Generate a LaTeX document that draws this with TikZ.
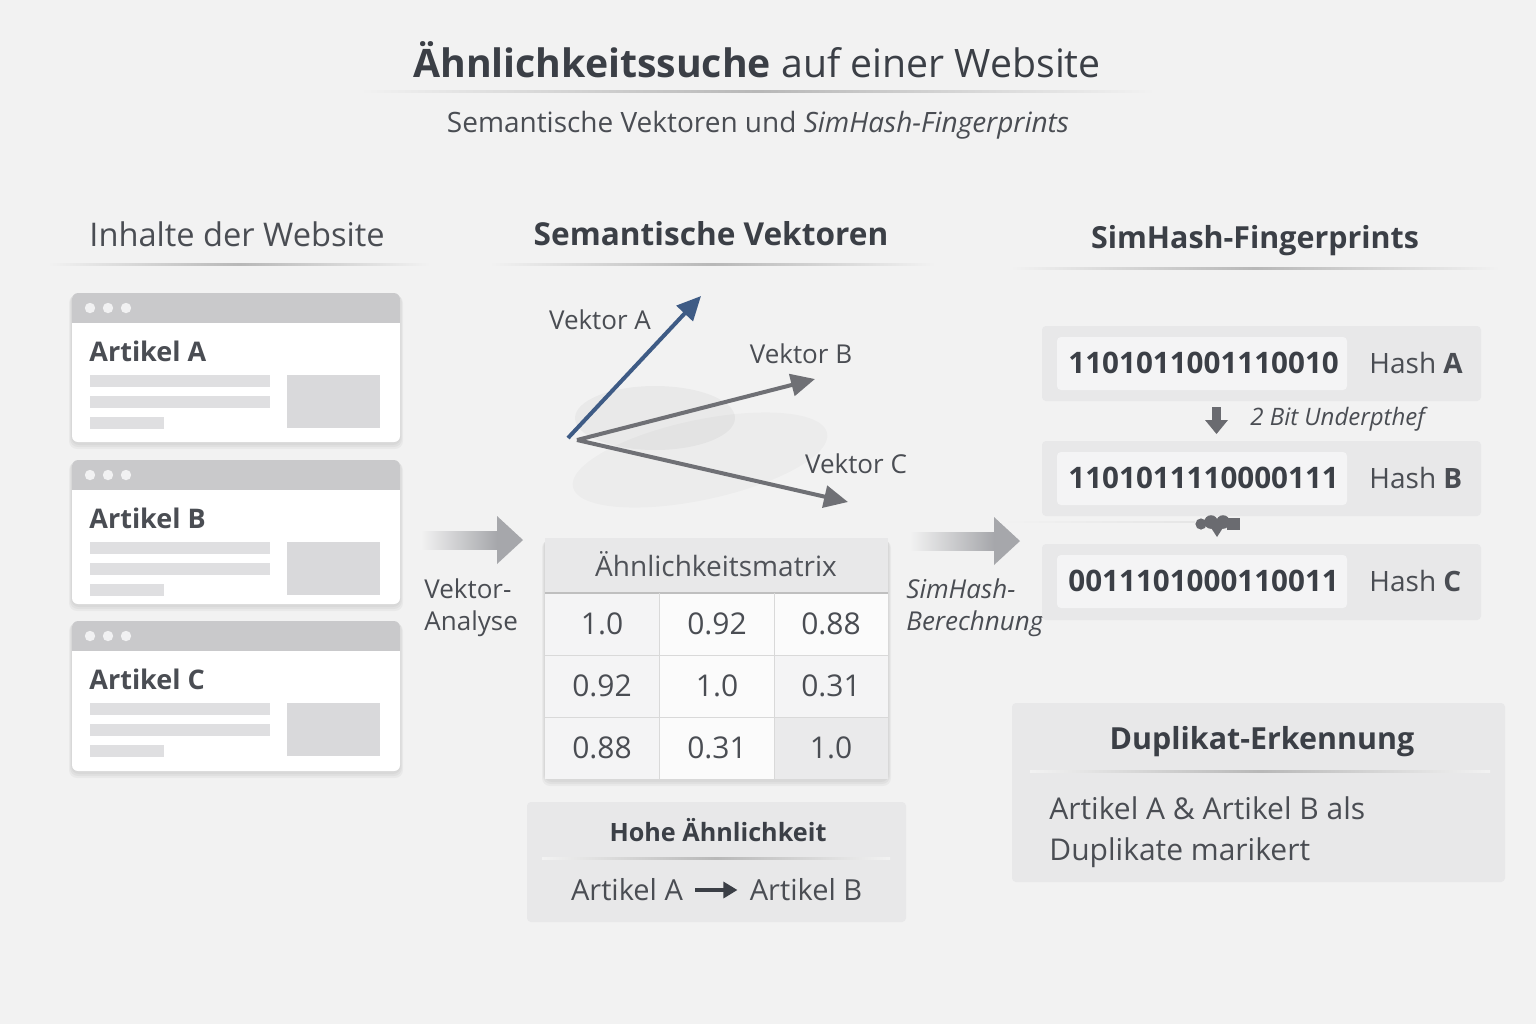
\documentclass[tikz,border=0pt]{standalone}
\usepackage{fontspec}
\setmainfont{Open Sans}
\usetikzlibrary{arrows.meta}
\definecolor{bgc}{HTML}{F2F2F2}
\definecolor{txt}{HTML}{4A4D53}
\definecolor{dark}{HTML}{3B3F46}
\definecolor{barc}{HTML}{C9C9CB}
\definecolor{linec}{HTML}{DFDFE1}
\definecolor{imgc}{HTML}{D9D9DB}
\definecolor{boxc}{HTML}{E8E8E9}
\definecolor{innerc}{HTML}{F4F4F5}
\definecolor{vecA}{HTML}{3E5B85}
\definecolor{vecG}{HTML}{6F7075}
\definecolor{arrc}{HTML}{A6A7AB}
\definecolor{symc}{HTML}{6A6B70}
\newcommand\fsz[1]{\fontsize{#1}{1.25\dimexpr #1pt\relax}\selectfont}
\tikzset{
  x=0.5pt, y=-0.5pt,
  lbl/.style={inner sep=0pt, text=txt},
  sep/.style={left color=bgc, right color=bgc, middle color=black!28},
  shd/.style={fill=black, opacity=0.035, rounded corners=4pt},
  card/.style={fill=white, rounded corners=3pt},
  pane/.style={fill=boxc, rounded corners=2pt},
  vec/.style={line width=2pt, -{Triangle[length=12pt, width=11pt]}},
}
% soft shadow: #1,#2 top-left, #3,#4 bottom-right
\newcommand\softshadow[4]{%
  \fill[shd] ({#1-1},{#2}) rectangle ({#3+1},{#4+3});
  \fill[shd] ({#1-2},{#2+1}) rectangle ({#3+2},{#4+5});
  \fill[shd] ({#1-3},{#2+2}) rectangle ({#3+3},{#4+7});
}
\newcommand\artcard[4]{%
  \softshadow{72}{#3}{400}{#4}
  \path[card] (72,#3) rectangle (400,#4);
  \begin{scope}
    \clip[rounded corners=3pt] (72,#3) rectangle (400,#4);
    \fill[barc] (72,#3) rectangle (400,{#3+30});
  \end{scope}
  \foreach \dx in {90,108,126} \fill[white!75!barc] (\dx,{#3+15}) circle (2.6pt);
  \node[lbl, anchor=west, font=\fsz{13.5}\bfseries] (#1) at (89,{#3+58}) {Artikel #2};
  \fill[linec] (90,{#3+82}) rectangle (270,{#3+94});
  \fill[linec] (90,{#3+103}) rectangle (270,{#3+115});
  \fill[linec] (90,{#3+124}) rectangle (164,{#3+136});
  \fill[imgc] (287,{#3+82}) rectangle (380,{#3+135});
}
\newcommand\bigarrow[3]{%
  \shade[left color=bgc, right color=arrc] (#1,{#3-9}) rectangle ({#2-26},{#3+9});
  \fill[arrc] ({#2-26},{#3-24}) -- (#2,#3) -- ({#2-26},{#3+24}) -- cycle;
}
\begin{document}
\begin{tikzpicture}
\useasboundingbox (0,0) rectangle (1536,1024);
\fill[bgc] (0,0) rectangle (1536,1024);

% title
\node[lbl, text=dark, font=\fsz{19.6}] (title) at (757,60) {\textbf{Ähnlichkeitssuche} auf einer Website};
\shade[sep] (360,90) rectangle (1155,92);
\node[lbl, font=\fsz{14}] (subtitle) at (758,125) {Semantische Vektoren und \textit{SimHash-Fingerprints}};

% column headers
\node[lbl, font=\fsz{16.3}] (h1) at (237,234) {Inhalte der Website};
\shade[sep] (48,263) rectangle (430,265);
\node[lbl, text=dark, font=\fsz{15.8}\bfseries] (h2) at (711,234) {Semantische Vektoren};
\shade[sep] (490,263) rectangle (935,265);
\node[lbl, text=dark, font=\fsz{15.2}\bfseries] (h3) at (1255,241) {SimHash-Fingerprints};
\shade[sep] (1010,267) rectangle (1500,269);

% article cards
\artcard{artA}{A}{293}{442}
\artcard{artB}{B}{460}{604}
\artcard{artC}{C}{621}{771}

% arrow 1
\bigarrow{421}{523}{540}
\node[lbl, anchor=north west, align=left, font=\fsz{13}] (va) at (424,578) {Vektor-\\Analyse};

% vectors
\fill[black, opacity=0.035] (655,418) ellipse [x radius=80, y radius=32];
\fill[black, opacity=0.025, rotate around={12:(700,460)}] (700,460) ellipse [x radius=130, y radius=40];
\coordinate (oA) at (568,438);
\coordinate (oB) at (577,440);
\coordinate (eA) at (701,296);
\coordinate (eB) at (815,379);
\coordinate (eC) at (848,502);
\draw[vec, draw=vecG, fill=vecG] (oB) -- (eB);
\draw[vec, draw=vecG, fill=vecG] (oB) -- (eC);
\draw[vec, draw=vecA, fill=vecA] (oA) -- (eA);
\node[lbl, font=\fsz{13}] (lA) at (600,320) {Vektor A};
\node[lbl, font=\fsz{13}] (lB) at (801,354) {Vektor B};
\node[lbl, font=\fsz{13}] (lC) at (856,464) {Vektor C};

% matrix
\softshadow{545}{538}{888}{779}
\fill[innerc] (545,538) rectangle (888,779);
\fill[boxc] (545,538) rectangle (888,593);
\fill[white!60!innerc] (659,593) rectangle (774,655);
\fill[white!60!innerc] (774,593) rectangle (888,655);
\fill[white!60!innerc] (659,655) rectangle (774,717);
\fill[white!60!innerc] (659,717) rectangle (774,779);
\fill[black!4!innerc] (774,717) rectangle (888,779);
\draw[black!25, line width=0.6pt] (545,593) -- (888,593);
\draw[black!15, line width=0.5pt] (545,655) -- (888,655) (545,717) -- (888,717) (659,593) -- (659,779) (774,593) -- (774,779);
\node[lbl, font=\fsz{14}, text=dark!90] (mh) at (716,564) {Ähnlichkeitsmatrix};
\node[lbl, font=\fsz{15}] (m11) at (602,624) {1.0};
\node[lbl, font=\fsz{15}] (m12) at (717,624) {0.92};
\node[lbl, font=\fsz{15}] (m13) at (831,624) {0.88};
\node[lbl, font=\fsz{15}] (m21) at (602,686) {0.92};
\node[lbl, font=\fsz{15}] (m22) at (717,686) {1.0};
\node[lbl, font=\fsz{15}] (m23) at (831,686) {0.31};
\node[lbl, font=\fsz{15}] (m31) at (602,748) {0.88};
\node[lbl, font=\fsz{15}] (m32) at (717,748) {0.31};
\node[lbl, font=\fsz{15}] (m33) at (831,748) {1.0};

% high similarity box
\fill[pane] (527,802) rectangle (906,922);
\node[lbl, text=dark, font=\fsz{12.6}\bfseries] (hoch) at (718,830) {Hohe Ähnlichkeit};
\shade[sep] (542,857) rectangle (890,859);
\node[lbl, font=\fsz{14.5}] (ha) at (627,890) {Artikel A};
\node[lbl, font=\fsz{14.5}] (hb) at (806,890) {Artikel B};
\draw[line width=1.6pt, draw=dark, -{Triangle[length=7pt, width=8pt]}] ([xshift=6pt]ha.east) -- ([xshift=-6pt]hb.west);

% arrow 2
\bigarrow{910}{1020}{541}
\node[lbl, anchor=north west, align=left, font=\fsz{13}\itshape] (sb) at (906,578) {SimHash-\\Berechnung};

% hash rows
\shade[left color=bgc, right color=black!10] (1000,521) rectangle (1195,522.5);
\fill[pane] (1042,326) rectangle (1481,401);
\fill[innerc, rounded corners=2pt] (1057,337) rectangle (1347,390);
\node[lbl, anchor=west, text=dark, font=\fsz{14.8}\bfseries] (codeA) at (1068,363) {1101011001110010};
\node[lbl, anchor=west, font=\fsz{14}] (hashA) at (1369,363) {Hash \textbf{A}};

\fill[pane] (1042,441) rectangle (1481,516);
\fill[innerc, rounded corners=2pt] (1057,452) rectangle (1347,505);
\node[lbl, anchor=west, text=dark, font=\fsz{14.8}\bfseries] (codeB) at (1068,478) {1101011110000111};
\node[lbl, anchor=west, font=\fsz{14}] (hashB) at (1369,478) {Hash \textbf{B}};

\fill[pane] (1042,544) rectangle (1481,620);
\fill[innerc, rounded corners=2pt] (1057,555) rectangle (1347,608);
\node[lbl, anchor=west, text=dark, font=\fsz{14.8}\bfseries] (codeC) at (1068,581) {0011101000110011};
\node[lbl, anchor=west, font=\fsz{14}] (hashC) at (1369,581) {Hash \textbf{C}};

% difference marker
\fill[symc] (1212,407) rectangle (1221,421);
\fill[symc] (1205,420) -- (1228,420) -- (1216.5,434) -- cycle;
\node[lbl, anchor=west, font=\fsz{12}\itshape] (diff) at (1250,419) {2 Bit Underpthef};

% odd connector symbol
\fill[symc] (1201,524) circle (2.8pt);
\fill[symc] (1206,520) -- (1228,520) -- (1217,537) -- cycle;
\fill[symc] (1211,522) circle (3.4pt);
\fill[symc] (1223,522) circle (3.4pt);
\fill[symc] (1227,518) rectangle (1240,530);

% duplicate detection
\fill[pane] (1012,703) rectangle (1505,882);
\node[lbl, text=dark, font=\fsz{15.2}\bfseries] (dup) at (1262,742) {Duplikat-Erkennung};
\shade[sep] (1030,770) rectangle (1490,772);
\node[lbl, anchor=north west, align=left, font=\fsz{15}] (duptxt) at (1049,796) {Artikel A \& Artikel B als\\[1.8pt]Duplikate marikert};
\end{tikzpicture}
\end{document}
